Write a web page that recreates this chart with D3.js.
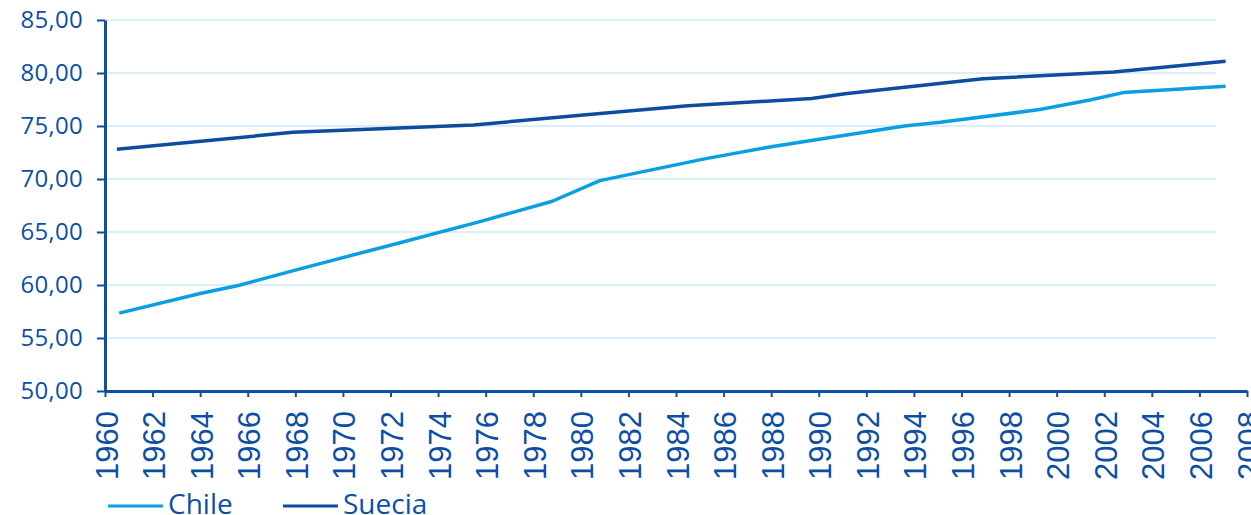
<!DOCTYPE html>
<html>
<head>
<meta charset="utf-8">
<script src="https://cdn.jsdelivr.net/npm/d3@7"></script>
<style>
  html, body { margin: 0; padding: 0; background: #ffffff; }
  svg { display: block; }
</style>
</head>
<body>
<svg id="chart" width="1251" height="515"></svg>
<script>
// Life expectancy at birth (years), Chile vs Suecia
const chileYears  = [1960.6, 1964, 1965.6, 1968, 1969.6, 1972, 1975.8, 1978.8, 1980.8, 1985.2, 1988, 1990.9, 1993.6, 1995.1, 1999.3, 2001.4, 2002.8, 2007.1];
const chileValues = [57.35, 59.2, 59.95, 61.4, 62.35, 63.75, 66.0, 67.9, 69.85, 71.9, 73.05, 74.05, 75.0, 75.35, 76.55, 77.45, 78.15, 78.75];

const sueciaYears  = [1960.5, 1967.9, 1975.5, 1980.7, 1984.5, 1989.7, 1991.1, 1996.9, 2002.4, 2007.1];
const sueciaValues = [72.8, 74.4, 75.1, 76.15, 76.9, 77.6, 78.05, 79.45, 80.1, 81.1];

const seriesNames  = ["Chile", "Suecia"];
const seriesColors = ["#0a9fe2", "#0d4c9e"];

const yTickValues = [50, 55, 60, 65, 70, 75, 80, 85];
const xTickValues = d3.range(1960, 2009, 2);

const axisColor = "#0d4fa3";
const gridColor = "#cfe9f7";

const svg = d3.select("#chart");

const x = d3.scaleLinear().domain([1960, 2008]).range([105, 1247]);
const y = d3.scaleLinear().domain([50, 85]).range([391, 20]);

// horizontal gridlines
svg.append("g")
  .selectAll("line")
  .data(yTickValues.filter(v => v > 50))
  .join("line")
  .attr("x1", x(1960)).attr("x2", 1216)
  .attr("y1", d => y(d)).attr("y2", d => y(d))
  .attr("stroke", gridColor).attr("stroke-width", 1.5);

// y axis
const fmt = v => d3.format(".2f")(v).replace(".", ",");
const yAxis = svg.append("g")
  .attr("transform", `translate(${x(1960)},0)`)
  .call(d3.axisLeft(y).tickValues(yTickValues).tickFormat(fmt).tickSize(8).tickSizeOuter(0).tickPadding(14));
yAxis.select(".domain").attr("stroke", axisColor).attr("stroke-width", 3);
yAxis.selectAll(".tick line").attr("stroke", axisColor).attr("stroke-width", 2);
yAxis.selectAll(".tick text")
  .attr("fill", axisColor)
  .attr("font-family", "'Open Sans', sans-serif")
  .attr("font-size", 24)
  .style("letter-spacing", "0.3px");

// x axis with vertical year labels
const xAxis = svg.append("g")
  .attr("transform", `translate(0,${y(50)})`)
  .attr("font-size", 31)
  .attr("font-family", "'Liberation Sans', Arial, sans-serif")
  .call(d3.axisBottom(x).tickValues(xTickValues).tickFormat(d3.format("d")).tickSize(6).tickSizeOuter(0));
xAxis.attr("font-size", 31).attr("font-family", "'Liberation Sans', Arial, sans-serif");
xAxis.select(".domain").attr("stroke", axisColor).attr("stroke-width", 3);
xAxis.selectAll(".tick line").attr("stroke", axisColor).attr("stroke-width", 2);
xAxis.selectAll(".tick text")
  .attr("fill", axisColor)
  .attr("text-anchor", "end")
  .attr("dy", null)
  .attr("y", 0)
  .attr("transform", "translate(12,20) rotate(-90)");

// series lines
const line = d3.line().x(d => x(d[0])).y(d => y(d[1]));
const series = [
  d3.zip(chileYears, chileValues),
  d3.zip(sueciaYears, sueciaValues)
];
svg.append("g")
  .selectAll("path")
  .data(series)
  .join("path")
  .attr("d", line)
  .attr("fill", "none")
  .attr("stroke", (d, i) => seriesColors[i])
  .attr("stroke-width", 3.5)
  .attr("stroke-linejoin", "round");

// legend
const legendX = [108, 283];
const legend = svg.append("g")
  .selectAll("g")
  .data(seriesNames)
  .join("g")
  .attr("transform", (d, i) => `translate(${legendX[i]},506)`);
legend.append("line")
  .attr("x1", 0).attr("x2", 55)
  .attr("stroke", (d, i) => seriesColors[i])
  .attr("stroke-width", 3);
legend.append("text")
  .attr("x", 60).attr("y", 8)
  .attr("fill", axisColor)
  .attr("font-family", "'Open Sans', sans-serif")
  .attr("font-size", 28)
  .text(d => d);
</script>
</body>
</html>
